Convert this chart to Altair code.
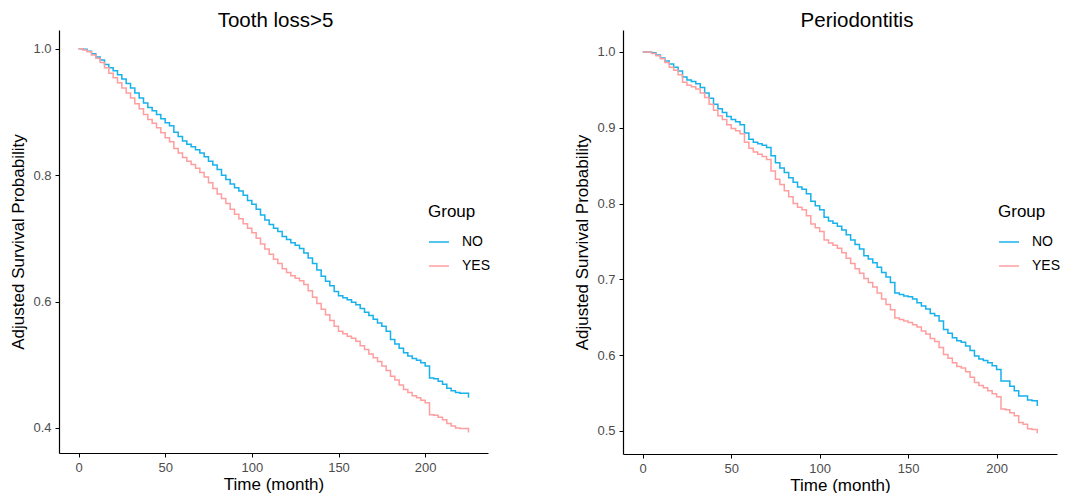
import altair as alt
import pandas as pd

# ---- data (time in months, adjusted survival) ----
TIME_A = [0, 2.5, 5, 7.5, 10, 12.5, 15, 17.5, 20, 22.5, 25, 27.5, 30, 32.5, 35, 37.5, 40, 42.5,
          45, 47.5, 50, 52.5, 55, 57.5, 60, 62.5, 65, 67.5, 70, 72.5, 75, 77.5, 80, 82.5, 85,
          87.5, 90, 92.5, 95, 97.5, 100, 102.5, 105, 107.5, 110, 112.5, 115, 117.5, 120, 122.5,
          125, 127.5, 130, 132.5, 135, 137.5, 140, 142.5, 145, 147.5, 150, 152.5, 155, 157.5,
          160, 162.5, 165, 167.5, 170, 172.5, 175, 177.5, 180, 182.5, 185, 187.5, 190, 192.5,
          195, 197.5, 200, 202.5, 205, 207.5, 210, 212.5, 215, 217.5, 220, 222.5, 225]
A_NO = [1.000, 0.999, 0.996, 0.992, 0.987, 0.982, 0.975, 0.970, 0.965, 0.959, 0.952, 0.945,
        0.938, 0.930, 0.922, 0.914, 0.907, 0.902, 0.896, 0.889, 0.883, 0.878, 0.868, 0.861,
        0.854, 0.849, 0.845, 0.840, 0.835, 0.829, 0.822, 0.816, 0.809, 0.800, 0.793, 0.786,
        0.780, 0.775, 0.768, 0.760, 0.754, 0.746, 0.737, 0.729, 0.722, 0.716, 0.711, 0.703,
        0.698, 0.693, 0.689, 0.684, 0.677, 0.669, 0.660, 0.650, 0.640, 0.632, 0.625, 0.616,
        0.609, 0.606, 0.603, 0.599, 0.595, 0.589, 0.583, 0.578, 0.572, 0.566, 0.561, 0.553,
        0.540, 0.533, 0.526, 0.519, 0.514, 0.510, 0.507, 0.503, 0.498, 0.479, 0.478, 0.474,
        0.469, 0.463, 0.459, 0.456, 0.455, 0.455, 0.448]
A_YES = [1.000, 0.998, 0.995, 0.990, 0.985, 0.978, 0.970, 0.961, 0.954, 0.946, 0.938, 0.930,
         0.922, 0.913, 0.905, 0.896, 0.888, 0.882, 0.875, 0.867, 0.859, 0.853, 0.842, 0.835,
         0.828, 0.822, 0.817, 0.811, 0.804, 0.797, 0.788, 0.779, 0.770, 0.763, 0.755, 0.746,
         0.738, 0.731, 0.723, 0.716, 0.709, 0.700, 0.691, 0.683, 0.675, 0.667, 0.660, 0.652,
         0.646, 0.641, 0.637, 0.633, 0.627, 0.617, 0.607, 0.597, 0.588, 0.579, 0.570, 0.561,
         0.553, 0.549, 0.545, 0.542, 0.537, 0.530, 0.524, 0.517, 0.511, 0.505, 0.498, 0.491,
         0.482, 0.476, 0.468, 0.461, 0.456, 0.451, 0.448, 0.444, 0.440, 0.421, 0.420, 0.417,
         0.413, 0.407, 0.403, 0.400, 0.399, 0.399, 0.393]

TIME_B = [0, 2.5, 5, 7.5, 10, 12.5, 15, 17.5, 20, 22.5, 25, 27.5, 30, 32.5, 35, 37.5, 40, 42.5,
          45, 47.5, 50, 52.5, 55, 57.5, 60, 62.5, 65, 67.5, 70, 72.5, 75, 77.5, 80, 82.5, 85,
          87.5, 90, 92.5, 95, 97.5, 100, 102.5, 105, 107.5, 110, 112.5, 115, 117.5, 120, 122.5,
          125, 127.5, 130, 132.5, 135, 137.5, 140, 142.5, 145, 147.5, 150, 152.5, 155, 157.5,
          160, 162.5, 165, 167.5, 170, 172.5, 175, 177.5, 180, 182.5, 185, 187.5, 190, 192.5,
          195, 197.5, 200, 202.5, 205, 207.5, 210, 212.5, 215, 217.5, 220, 222.5, 223]
B_NO = [1.000, 1.000, 0.999, 0.996, 0.992, 0.988, 0.984, 0.980, 0.975, 0.967, 0.963, 0.961,
        0.958, 0.953, 0.946, 0.939, 0.931, 0.925, 0.920, 0.915, 0.911, 0.908, 0.904, 0.893,
        0.885, 0.881, 0.879, 0.877, 0.874, 0.863, 0.854, 0.847, 0.841, 0.834, 0.828, 0.822,
        0.819, 0.813, 0.803, 0.797, 0.792, 0.782, 0.777, 0.774, 0.770, 0.765, 0.759, 0.752,
        0.746, 0.740, 0.731, 0.727, 0.722, 0.716, 0.709, 0.703, 0.696, 0.682, 0.680, 0.678,
        0.677, 0.674, 0.669, 0.665, 0.661, 0.655, 0.652, 0.645, 0.634, 0.629, 0.623, 0.619,
        0.617, 0.612, 0.606, 0.599, 0.595, 0.593, 0.590, 0.586, 0.581, 0.566, 0.566, 0.559,
        0.553, 0.546, 0.546, 0.541, 0.540, 0.540, 0.533]
B_YES = [1.000, 1.000, 0.998, 0.995, 0.991, 0.986, 0.980, 0.976, 0.970, 0.960, 0.956, 0.954,
         0.951, 0.946, 0.940, 0.931, 0.923, 0.916, 0.911, 0.904, 0.899, 0.896, 0.892, 0.881,
         0.873, 0.868, 0.865, 0.862, 0.858, 0.843, 0.832, 0.825, 0.817, 0.809, 0.800, 0.795,
         0.792, 0.784, 0.773, 0.768, 0.763, 0.752, 0.748, 0.745, 0.741, 0.735, 0.728, 0.721,
         0.714, 0.708, 0.701, 0.696, 0.690, 0.682, 0.674, 0.667, 0.660, 0.649, 0.647, 0.645,
         0.643, 0.640, 0.637, 0.632, 0.628, 0.622, 0.618, 0.610, 0.601, 0.596, 0.590, 0.585,
         0.583, 0.578, 0.571, 0.564, 0.560, 0.557, 0.553, 0.549, 0.545, 0.529, 0.528, 0.524,
         0.520, 0.511, 0.509, 0.503, 0.502, 0.502, 0.497]

GROUPS = ["NO", "YES"]
COLORS = ["#17B1EC", "#FF9E9E"]
FONT = "Liberation Sans"


def build_df(times, no_vals, yes_vals):
    rows = []
    for t, v in zip(times, no_vals):
        rows.append({"time": t, "surv": v, "Group": "NO"})
    for t, v in zip(times, yes_vals):
        rows.append({"time": t, "surv": v, "Group": "YES"})
    return pd.DataFrame(rows)


def panel(df, title, xdom, ydom, yticks, lx, ly, w, h, tdx):
    return alt.Chart(df, title=alt.Title(title, fontSize=20.5, font=FONT, fontWeight="normal",
                                         color="black", offset=-1, dx=tdx)).mark_line(
        interpolate="step-after", strokeWidth=1.5
    ).encode(
        x=alt.X("time:Q", title="Time (month)",
                scale=alt.Scale(domain=xdom, nice=False, zero=False),
                axis=alt.Axis(values=[0, 50, 100, 150, 200])),
        y=alt.Y("surv:Q", title="Adjusted Survival Probability",
                scale=alt.Scale(domain=ydom, nice=False, zero=False),
                axis=alt.Axis(values=yticks, format=".1f")),
        color=alt.Color("Group:N", scale=alt.Scale(domain=GROUPS, range=COLORS),
                        legend=alt.Legend(title="Group", orient="none", legendX=lx, legendY=ly,
                                          symbolType="stroke", symbolSize=400,
                                          symbolStrokeWidth=1.5, labelOffset=12,
                                          titlePadding=10, rowPadding=6)),
        detail="Group:N",
    ).properties(width=w, height=h)


left = panel(build_df(TIME_A, A_NO, A_YES), "Tooth loss>5", [-11.25, 236.25], [0.3604, 1.0296],
             [0.4, 0.6, 0.8, 1.0], 369, 174, 429, 423, 2)
right = panel(build_df(TIME_B, B_NO, B_YES), "Periodontitis", [-11.15, 234.15], [0.4696, 1.029],
              [0.5, 0.6, 0.7, 0.8, 0.9, 1.0], 375, 174, 434, 424, 17)

chart = alt.hconcat(left, right, spacing=82).resolve_scale(color="independent").resolve_legend(
    color="independent"
).properties(padding={"left": 1, "top": 2, "right": 0, "bottom": 0}).configure_view(
    stroke=None
).configure_axis(
    grid=False, domainColor="black", domainWidth=1.2, tickColor="black", tickSize=4,
    labelColor="#4D4D4D", labelFontSize=13, labelFont=FONT, labelPadding=4,
    titleFont=FONT, titleFontSize=17, titleFontWeight="normal", titleColor="black",
).configure_axisY(titlePadding=5).configure_axisX(titlePadding=2).configure_legend(
    titleFont=FONT, titleFontSize=17, titleFontWeight="normal", titleColor="black",
    labelFont=FONT, labelFontSize=14, labelColor="black",
).configure_title(anchor="middle")

chart.save("out.html", embed_options={"renderer": "svg", "actions": False})
